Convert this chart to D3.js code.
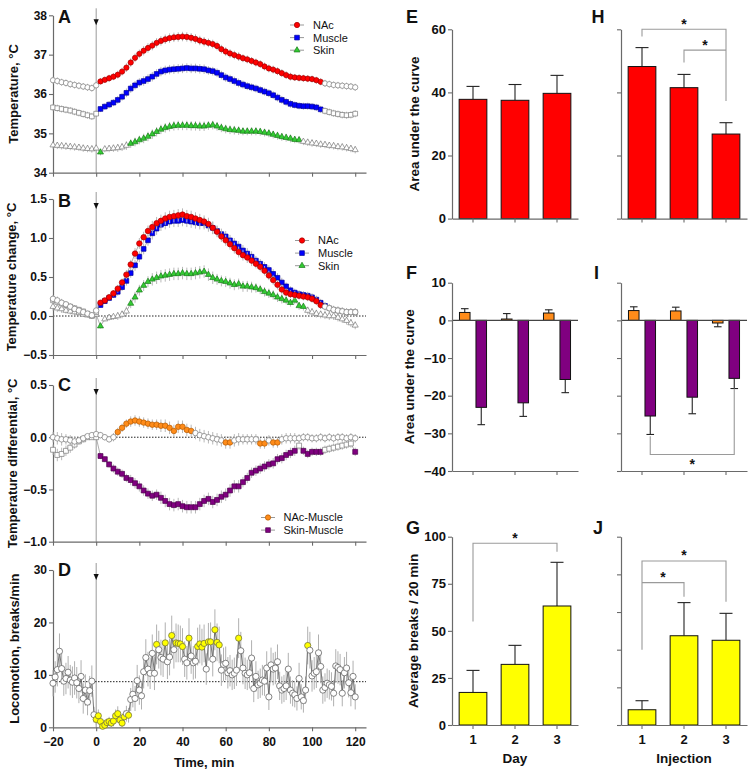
<!DOCTYPE html>
<html><head><meta charset="utf-8">
<script src="https://cdnjs.cloudflare.com/ajax/libs/d3/7.8.5/d3.min.js"></script>
<style>body{margin:0;background:#fff}svg{display:block}</style>
</head><body><svg id="c" width="754" height="777"></svg>
<script>
// ---------------- DATA ----------------
const timeTemp = [-20,-18,-16,-14,-12,-10,-8,-6,-4,-2,0,
 2,4,6,8,10,12,14,16,18,20, 22,24,26,28,30,32,34,36,38,40,
 42,44,46,48,50,52,54,56,58,60, 62,64,66,68,70,72,74,76,78,80,
 82,84,86,88,90,92,94,96,98,100, 102,104, 106,108,110,112,114,116,118,120];

const aNAc = [36.35,36.33,36.30,36.28,36.25,36.23,36.21,36.19,36.17,36.15,36.22,
 36.32,36.36,36.40,36.44,36.49,36.57,36.67,36.80,36.92,37.02,
 37.10,37.17,37.23,37.30,37.35,37.39,37.42,37.44,37.45,37.46,
 37.45,37.43,37.40,37.36,37.33,37.30,37.27,37.22,37.14,37.08,
 37.03,36.99,36.95,36.91,36.88,36.84,36.80,36.76,36.70,36.65,
 36.62,36.58,36.53,36.48,36.44,36.42,36.41,36.40,36.39,36.38,
 36.35,36.31, 36.27,36.25,36.23,36.22,36.21,36.20,36.19,36.17];
const aMuscle = [35.66,35.64,35.62,35.60,35.58,35.55,35.52,35.49,35.46,35.43,35.50,
 35.62,35.68,35.73,35.78,35.85,35.93,36.03,36.14,36.22,36.29,
 36.33,36.38,36.44,36.51,36.57,36.60,36.62,36.63,36.64,36.65,
 36.66,36.65,36.65,36.64,36.63,36.60,36.58,36.54,36.48,36.42,
 36.38,36.33,36.28,36.24,36.20,36.17,36.14,36.10,36.06,36.02,
 35.97,35.91,35.85,35.80,35.75,35.72,35.70,35.69,35.69,35.68,
 35.66,35.61, 35.57,35.54,35.51,35.49,35.47,35.46,35.47,35.50];
const aSkin = [34.70,34.69,34.68,34.67,34.66,34.65,34.64,34.62,34.61,34.60,34.62,
 34.52,34.60,34.61,34.62,34.63,34.65,34.69,34.74,34.78,34.83,
 34.87,34.92,34.98,35.04,35.10,35.14,35.17,35.19,35.20,35.20,
 35.20,35.19,35.19,35.18,35.18,35.20,35.21,35.18,35.14,35.11,
 35.09,35.08,35.07,35.05,35.05,35.05,35.05,35.04,35.02,35.00,
 34.97,34.94,34.91,34.89,34.87,34.84,34.83,34.79,34.77,34.75,
 34.74,34.72, 34.71,34.69,34.68,34.66,34.65,34.63,34.61,34.58];
const semA = [0.09,0.09,0.09,0.09,0.09,0.09,0.09,0.09,0.09,0.09,0.09,
 0.08,0.08,0.09,0.09,0.10,0.10,0.11,0.11,0.11,0.11,
 0.12,0.12,0.12,0.12,0.12,0.12,0.12,0.12,0.12,0.12,
 0.12,0.12,0.12,0.12,0.12,0.11,0.11,0.11,0.11,0.11,
 0.11,0.11,0.11,0.10,0.10,0.10,0.10,0.10,0.10,0.10,
 0.10,0.10,0.10,0.10,0.10,0.09,0.09,0.09,0.09,0.09,
 0.09,0.09, 0.09,0.09,0.09,0.09,0.09,0.09,0.09,0.09];

const bNAc = [0.22,0.20,0.17,0.15,0.12,0.09,0.07,0.05,0.03,0.01,0.07,
 0.17,0.20,0.24,0.29,0.35,0.43,0.53,0.66,0.80,0.93,
 1.01,1.09,1.14,1.19,1.22,1.25,1.27,1.28,1.29,1.30,
 1.28,1.27,1.25,1.23,1.21,1.18,1.13,1.08,1.02,0.97,
 0.92,0.87,0.82,0.78,0.75,0.71,0.67,0.63,0.58,0.52,
 0.46,0.40,0.34,0.30,0.28,0.27,0.26,0.25,0.24,0.22,
 0.19,0.14, 0.12,0.10,0.08,0.07,0.06,0.05,0.05,0.05];
const bMuscle = [0.20,0.18,0.16,0.14,0.12,0.10,0.08,0.06,0.03,0.00,0.05,
 0.14,0.19,0.23,0.27,0.31,0.37,0.45,0.55,0.65,0.76,
 0.86,0.97,1.06,1.12,1.17,1.19,1.21,1.22,1.22,1.23,
 1.22,1.21,1.20,1.19,1.19,1.16,1.13,1.09,1.05,1.02,
 0.97,0.93,0.89,0.84,0.80,0.76,0.71,0.67,0.63,0.59,
 0.54,0.49,0.43,0.38,0.33,0.30,0.28,0.27,0.26,0.24,
 0.21,0.17, 0.13,0.10,0.08,0.07,0.06,0.05,0.05,0.05];
const bSkin = [0.12,0.10,0.09,0.07,0.06,0.05,0.04,0.02,0.01,0.00,0.02,
 -0.13,-0.04,-0.02,-0.01,0.00,0.02,0.06,0.16,0.24,0.33,
 0.39,0.44,0.47,0.49,0.51,0.52,0.53,0.54,0.54,0.55,
 0.54,0.54,0.55,0.56,0.57,0.53,0.49,0.47,0.45,0.44,
 0.42,0.40,0.41,0.38,0.38,0.37,0.36,0.34,0.31,0.29,
 0.27,0.24,0.22,0.20,0.17,0.20,0.13,0.12,0.07,0.05,
 0.03,0.02, 0.01,0.00,0.00,-0.02,-0.04,-0.06,-0.09,-0.12];
const semB = [0.05,0.05,0.05,0.04,0.04,0.04,0.04,0.03,0.03,0.03,0.03,
 0.03,0.03,0.04,0.04,0.05,0.05,0.06,0.06,0.07,0.07,
 0.07,0.07,0.08,0.08,0.08,0.08,0.08,0.08,0.08,0.08,
 0.08,0.08,0.08,0.08,0.08,0.08,0.08,0.07,0.07,0.07,
 0.07,0.07,0.07,0.07,0.07,0.07,0.06,0.06,0.06,0.06,
 0.06,0.06,0.06,0.05,0.05,0.05,0.05,0.05,0.05,0.05,
 0.05,0.05, 0.05,0.05,0.05,0.05,0.05,0.05,0.05,0.05];

const cNAcMuscle = [0.00,-0.01,-0.02,-0.02,-0.03,-0.04,-0.03,-0.01,0.01,0.02,0.03,
 0.02,0.00,-0.02,0.00,0.05,0.09,0.13,0.15,0.16,0.15,
 0.14,0.13,0.12,0.12,0.11,0.11,0.09,0.06,0.10,0.10,
 0.07,0.06,0.04,0.02,0.01,0.00,-0.01,-0.02,-0.03,-0.05,
 -0.05,-0.03,-0.02,-0.02,-0.02,-0.02,-0.02,-0.06,-0.06,-0.03,
 -0.05,-0.05,-0.02,-0.01,-0.01,-0.01,-0.01,0.00,0.00,-0.01,
 -0.01,0.00, -0.01,0.00,-0.01,0.00,0.00,-0.01,0.00,-0.01];
const cSkinMuscle = [-0.12,-0.17,-0.16,-0.13,-0.10,-0.07,-0.04,-0.02,0.00,0.00,0.00,
 -0.18,-0.21,-0.26,-0.30,-0.33,-0.35,-0.39,-0.41,-0.44,-0.47,
 -0.51,-0.54,-0.56,-0.55,-0.58,-0.61,-0.64,-0.65,-0.64,-0.66,
 -0.67,-0.67,-0.67,-0.64,-0.61,-0.59,-0.62,-0.60,-0.57,-0.55,
 -0.51,-0.47,-0.47,-0.43,-0.39,-0.34,-0.32,-0.30,-0.28,-0.26,
 -0.25,-0.21,-0.20,-0.17,-0.15,-0.13,-0.08,-0.13,-0.16,-0.14,
 -0.14,-0.14, -0.12,-0.11,-0.10,-0.09,-0.08,-0.07,-0.06,-0.14];
const semC = [0.05,0.06,0.06,0.05,0.05,0.04,0.03,0.03,0.02,0.02,0.02,
 0.03,0.03,0.03,0.04,0.04,0.04,0.04,0.05,0.05,0.05,
 0.05,0.05,0.05,0.05,0.06,0.06,0.06,0.06,0.06,0.06,
 0.06,0.06,0.06,0.06,0.06,0.06,0.06,0.06,0.06,0.06,
 0.06,0.06,0.06,0.05,0.05,0.05,0.05,0.05,0.05,0.05,
 0.05,0.05,0.05,0.05,0.05,0.05,0.04,0.04,0.04,0.04,
 0.04,0.04, 0.04,0.04,0.04,0.04,0.04,0.04,0.04,0.04];

// significant (coloured) time ranges, minutes
const sigANAc = [[2,104]], sigAMuscle = [[2,104]], sigASkin = [[2,2],[16,94]];
const sigBNAc = [[2,104]], sigBMuscle = [[2,106]], sigBSkin = [[2,2],[16,96]];
const sigCNAc = [[10,44],[60,62],[76,78],[82,84]], sigCSkin = [[2,92],[96,104],[120,120]];

const timeLoc = [-20,-19,-18,-17,-16,-15,-14,-13,-12,-11,-10,-9,-8,-7,-6,-5,-4,-3,-2,-1,
 0,1,2,3,4,5,6,7,8,9,10,11,12,13,14,15,16,17,18,19,
 20,21,22,23,24,25,26,27,28,29,30,31,32,33,34,35,36,37,38,39,
 40,41,42,43,44,45,46,47,48,49,50,51,52,53,54,55,56,57,58,59,
 60,61,62,63,64,65,66,67,68,69,70,71,72,73,74,75,76,77,78,79,
 80,81,82,83,84,85,86,87,88,89,90,91,92,93,94,95,96,97,98,99,
 100,101,102,103,104,105,106,107,108,109,110,111,112,113,114,115,116,117,118,119,120];
const locomotion = [8.4,9.6,11.0,14.5,11.2,8.8,9.3,10.5,9.0,8.6,
 9.4,8.5,7.4,9.7,5.5,7.1,4.8,7.0,8.8,2.4,
 1.5,2.2,1.1,0.2,0.4,0.9,1.1,0.8,1.2,2.2,
 2.6,1.4,0.8,2.0,2.6,2.3,5.3,6.3,5.5,8.9,
 7.1,6.0,10.6,13.3,11.1,10.3,14.1,10.3,15.8,14.8,
 13.3,13.0,16.1,12.5,13.4,17.5,14.8,16.1,16.0,15.9,
 15.4,13.0,12.3,17.0,13.6,12.3,12.6,15.4,15.9,15.3,
 16.0,11.1,16.3,16.3,13.0,18.6,16.2,15.7,10.9,12.0,
 12.2,10.4,10.8,10.0,10.3,10.9,17.0,14.6,11.3,10.3,
 10.0,10.4,13.2,7.4,9.7,8.1,8.4,9.0,8.8,11.3,
 5.8,11.9,11.1,11.3,12.5,7.9,7.1,7.4,7.9,11.1,
 7.1,6.5,6.2,5.5,9.3,5.8,5.1,7.1,15.6,14.7,
 9.8,10.3,10.6,14.2,11.6,7.1,7.6,8.4,8.1,7.8,
 6.5,11.7,11.4,11.0,6.5,10.4,11.3,8.5,6.6,9.7,
 5.8];
const locomotionSem = [2.5,3.0,3.2,3.4,3.0,2.8,3.0,3.1,2.9,3.0,
 3.2,3.0,2.8,3.1,2.9,3.0,2.5,2.8,3.0,1.5,
 1.0,1.2,0.9,0.5,0.6,0.8,0.9,0.8,1.0,1.2,
 1.4,1.0,0.8,1.2,1.5,1.4,2.2,2.5,2.4,3.0,
 2.8,2.6,3.2,3.5,3.3,3.0,3.6,3.2,3.8,3.6,
 3.4,3.4,3.9,3.3,3.5,3.8,3.6,3.7,3.6,3.5,
 3.5,3.4,3.2,3.8,3.4,3.2,3.3,3.6,3.7,3.5,
 3.6,3.0,3.6,3.7,3.3,3.9,3.6,3.5,3.0,3.2,
 3.2,3.0,3.0,2.9,3.0,3.0,3.8,3.6,3.1,3.0,
 2.9,3.0,3.4,2.6,2.9,2.7,2.8,2.9,2.8,3.2,
 2.5,3.3,3.1,3.1,3.3,2.7,2.6,2.6,2.7,3.1,
 2.6,2.5,2.4,2.3,3.0,2.4,2.3,2.6,3.6,3.5,
 3.0,3.1,3.1,3.5,3.2,2.6,2.7,2.8,2.8,2.7,
 2.5,3.2,3.1,3.0,2.5,3.0,3.1,2.8,2.6,3.0,
 2.4];
const sigLoc = [[0,13],[15,15],[28,28],[32,32],[35,35],[37,40],[43,43],[47,50],[52,53],[55,57],[66,66],[98,98]];
const locBaseline = 8.7;

// bar panels
const groups = ['1','2','3'];
const eMean = [37.8,37.5,39.7], eSem = [4.1,5.0,5.7];
const hMean = [48.2,41.5,26.8], hSem = [6.0,4.2,3.6];
const fNAcMean = [2.1,0.35,1.95], fNAcSem = [1.0,1.45,0.85];
const fSkinMean = [-23.1,-21.9,-15.7], fSkinSem = [4.6,3.6,3.5];
const iNAcMean = [2.6,2.5,-0.7], iNAcSem = [1.0,1.0,1.0];
const iSkinMean = [-25.4,-20.4,-15.4], iSkinSem = [4.9,4.4,2.7];
const gMean = [17.3,32.2,63.2], gSem = [11.7,10.1,23.2];
const jMean = [8.1,47.4,45.0], jSem = [4.8,17.6,14.3];
// brackets: from group a to b, bar y, end heights (data units)
const hBrackets = [{a:0,b:2,y:60,ya:57.7,yb:37.3},{a:1,b:2,y:53.4,ya:49.5,yb:53.4}];
const iBrackets = [{a:0,b:2,y:-35.6,ya:-30.8,yb:-18.1}];
const gBrackets = [{a:0,b:2,y:96.5,ya:55,yb:92}];
const jBrackets = [{a:0,b:2,y:87.1,ya:40,yb:65.5},{a:0,b:1,y:75.6,ya:75.6,yb:68.1}];

// ---------------- DRAWING ----------------
const FONT = '"Liberation Sans", Arial, Helvetica, sans-serif';
const svg = d3.select('#c').style('font-family', FONT);

const C = {
  red:'#ff0000', redS:'#a00000', blue:'#0000ff', blueS:'#00009a',
  green:'#33cc33', greenS:'#1a7a1a', orange:'#ff8c1a', orangeS:'#b35900',
  purple:'#800080', purpleS:'#4a004a', yellow:'#ffff00', yellowS:'#77773a'
};

const xT = d3.scaleLinear().domain([-20,125]).range([53,366]);
const timeTicks = [-20,0,20,40,60,80,100,120];

function styleAxis(g, fs){
  g.selectAll('path.domain').attr('stroke','#6a6a6a').attr('stroke-width',1.2);
  g.selectAll('.tick line').attr('stroke','#6a6a6a').attr('stroke-width',1.1);
  g.selectAll('text').attr('font-family',FONT).attr('font-weight','bold')
    .attr('font-size',fs||12).attr('fill','#111');
}
function inRanges(t, r){ return r.some(([a,b]) => t>=a && t<=b); }

const symCircle = d3.symbolCircle, symSquare = d3.symbolSquare, symTri = d3.symbolTriangle;

function leftPanel(cfg){
  const y = cfg.y;
  const top = y.range()[1], bot = y.range()[0];
  const g = svg.append('g');
  g.append('line').attr('x1',xT(0)).attr('x2',xT(0)).attr('y1',top-7).attr('y2',bot)
    .attr('stroke','#999').attr('stroke-width',1);
  g.append('path').attr('d',`M${xT(0)-2.6},${top+4}L${xT(0)+2.6},${top+4}L${xT(0)},${top+10}Z`).attr('fill','#111');
  if (cfg.ref !== undefined){
    g.append('line').attr('x1',xT(-20)).attr('x2',xT(125)).attr('y1',y(cfg.ref)).attr('y2',y(cfg.ref))
      .attr('stroke','#222').attr('stroke-width',1).attr('stroke-dasharray','1.5,1.5');
  }
  const ya = g.append('g').attr('transform',`translate(${xT(-20)},0)`)
    .call(d3.axisLeft(y).tickValues(cfg.ticks).tickFormat(cfg.fmt).tickSize(4).tickSizeOuter(0).tickPadding(2));
  styleAxis(ya, 12);
  const xa = g.append('g').attr('transform',`translate(0,${bot})`)
    .call(d3.axisBottom(xT).tickValues(timeTicks).tickSize(4).tickSizeOuter(0)
      .tickFormat(cfg.xLabels ? d3.format('d') : ''));
  styleAxis(xa, 12);
  xa.selectAll('text').attr('dy','0.95em');
  g.append('text').attr('transform',`translate(${cfg.titleX},${(top+bot)/2}) rotate(-90)`)
    .attr('text-anchor','middle').attr('font-weight','bold').attr('font-size',13).attr('fill','#111')
    .text(cfg.title);
  g.append('text').attr('x',58).attr('y',cfg.letterY).attr('font-weight','bold').attr('font-size',18)
    .attr('fill','#111').text(cfg.letter);
  return g;
}

function drawSeries(g, y, times, vals, sem, sig, sym, size, fill, stroke, errColor){
  const pts = times.map((t,i)=>({t, v: vals[i], s: sem[i], sig: inRanges(t, sig)}));
  g.append('g').selectAll('line').data(pts).join('line')
    .attr('x1',d=>xT(d.t)).attr('x2',d=>xT(d.t))
    .attr('y1',d=>y(d.v - d.s)).attr('y2',d=>y(d.v + d.s))
    .attr('stroke',errColor||'#b8b8b8').attr('stroke-width',1);
  g.append('path').datum(pts).attr('fill','none').attr('stroke','#8a8a8a').attr('stroke-width',0.7)
    .attr('d', d3.line().x(d=>xT(d.t)).y(d=>y(d.v)));
  const s = d3.symbol().type(sym).size(size);
  g.append('g').selectAll('path').data(pts).join('path')
    .attr('transform',d=>`translate(${xT(d.t)},${y(d.v)})`)
    .attr('d', s)
    .attr('fill', d=>d.sig ? fill : '#fff')
    .attr('stroke', d=>d.sig ? stroke : '#7a7a7a')
    .attr('stroke-width', 0.7);
}

function legend(g, items, mx, tx, ys){
  items.forEach((it,i)=>{
    g.append('line').attr('x1',mx-7).attr('x2',mx+7).attr('y1',ys[i]).attr('y2',ys[i])
      .attr('stroke','#999').attr('stroke-width',1);
    g.append('path').attr('transform',`translate(${mx},${ys[i]})`)
      .attr('d', d3.symbol().type(it.sym).size(it.size)).attr('fill',it.fill).attr('stroke',it.stroke).attr('stroke-width',0.7);
    g.append('text').attr('x',tx).attr('y',ys[i]+3.9).attr('font-size',11).attr('fill','#111').text(it.label);
  });
}

// Panel A
const yA = d3.scaleLinear().domain([34,38]).range([172.7,15.3]);
const gA = leftPanel({y:yA, ticks:[34,35,36,37,38], fmt:d3.format('d'), title:'Temperature, °C', titleX:17.5, letter:'A', letterY:22.5});
drawSeries(gA, yA, timeTemp, aSkin, semA, sigASkin, symTri, 16, C.green, C.greenS);
drawSeries(gA, yA, timeTemp, aMuscle, semA, sigAMuscle, symSquare, 22, C.blue, C.blueS);
drawSeries(gA, yA, timeTemp, aNAc, semA, sigANAc, symCircle, 22, C.red, C.redS);
legend(gA, [
  {label:'NAc', sym:symCircle, size:22, fill:C.red, stroke:C.redS},
  {label:'Muscle', sym:symSquare, size:22, fill:C.blue, stroke:C.blueS},
  {label:'Skin', sym:symTri, size:16, fill:C.green, stroke:C.greenS}], 297, 313, [25,37.6,50.2]);

// Panel B
const yB = d3.scaleLinear().domain([-0.5,1.5]).range([355,199]);
const gB = leftPanel({y:yB, ticks:[-0.5,0,0.5,1.0,1.5], fmt:d3.format('.1f'), title:'Temperature change, °C', titleX:16, letter:'B', letterY:206.5, ref:0});
drawSeries(gB, yB, timeTemp, bSkin, semB, sigBSkin, symTri, 16, C.green, C.greenS);
drawSeries(gB, yB, timeTemp, bMuscle, semB, sigBMuscle, symSquare, 22, C.blue, C.blueS);
drawSeries(gB, yB, timeTemp, bNAc, semB, sigBNAc, symCircle, 24, C.red, C.redS);
legend(gB, [
  {label:'NAc', sym:symCircle, size:22, fill:C.red, stroke:C.redS},
  {label:'Muscle', sym:symSquare, size:22, fill:C.blue, stroke:C.blueS},
  {label:'Skin', sym:symTri, size:16, fill:C.green, stroke:C.greenS}], 302, 318, [240.5,253.1,265.7]);

// Panel C
const yC = d3.scaleLinear().domain([-1,0.5]).range([541.7,385]);
const gC = leftPanel({y:yC, ticks:[-1.0,-0.5,0,0.5], fmt:d3.format('.1f'), title:'Temperature differential, °C', titleX:16.5, letter:'C', letterY:391, ref:0});
drawSeries(gC, yC, timeTemp, cSkinMuscle, semC, sigCSkin, symSquare, 24, C.purple, C.purpleS);
drawSeries(gC, yC, timeTemp, cNAcMuscle, semC, sigCNAc, symCircle, 24, C.orange, C.orangeS);
legend(gC, [
  {label:'NAc-Muscle', sym:symCircle, size:22, fill:C.orange, stroke:C.orangeS},
  {label:'Skin-Muscle', sym:symSquare, size:22, fill:C.purple, stroke:C.purpleS}], 268, 283.5, [517.5,530.1]);

// Panel D
const yD = d3.scaleLinear().domain([0,30]).range([727.3,570]);
const gD = leftPanel({y:yD, ticks:[0,10,20,30], fmt:d3.format('d'), title:'Locomotion, breaks/min', titleX:19, letter:'D', letterY:576, ref:locBaseline, xLabels:true});
(function(){
  const pts = timeLoc.map((t,i)=>({t, v: locomotion[i], s: locomotionSem[i], sig: inRanges(t, sigLoc)}));
  gD.append('g').selectAll('line').data(pts).join('line')
    .attr('x1',d=>xT(d.t)).attr('x2',d=>xT(d.t))
    .attr('y1',d=>yD(Math.max(0,d.v-d.s))).attr('y2',d=>yD(d.v+d.s))
    .attr('stroke','#b0b0b0').attr('stroke-width',1);
  gD.append('path').datum(pts).attr('fill','none').attr('stroke','#555').attr('stroke-width',0.8)
    .attr('d', d3.line().x(d=>xT(d.t)).y(d=>yD(d.v)));
  gD.append('g').selectAll('circle').data(pts).join('circle')
    .attr('cx',d=>xT(d.t)).attr('cy',d=>yD(d.v)).attr('r',3.1)
    .attr('fill',d=>d.sig?C.yellow:'#fff').attr('stroke',d=>d.sig?C.yellowS:'#666').attr('stroke-width',0.8);
})();
gD.append('text').attr('x',xT(50)).attr('y',767).attr('text-anchor','middle')
  .attr('font-weight','bold').attr('font-size',13).attr('fill','#111').text('Time, min');

// ---------------- Bar panels ----------------
function barPanel(cfg){
  const g = svg.append('g');
  const y = cfg.y;
  const x = d3.scaleBand().domain(groups).range([cfg.x0, cfg.x0+126]).paddingInner(0.34).paddingOuter(0.17);
  const base = y.domain()[0];
  const series = cfg.series;
  const sub = d3.scaleBand().domain(series.map((s,i)=>i)).range([0,x.bandwidth()])
    .paddingInner(series.length>1?0.36:0).paddingOuter(series.length>1?0.02:0);
  const centers = {};
  series.forEach((s,si)=>{
    groups.forEach((gr,gi)=>{
      const v = s.mean[gi], e = s.sem[gi];
      const bx = x(gr) + sub(si), bw = sub.bandwidth();
      const cx = bx + bw/2;
      centers[si+'_'+gi] = cx;
      const dir = v>=0 ? 1 : -1;
      const cap = Math.min(13, bw*0.72);
      g.append('line').attr('x1',cx).attr('x2',cx).attr('y1',y(v)).attr('y2',y(v+dir*e))
        .attr('stroke','#222').attr('stroke-width',1.1);
      g.append('line').attr('x1',cx-cap/2).attr('x2',cx+cap/2).attr('y1',y(v+dir*e)).attr('y2',y(v+dir*e))
        .attr('stroke','#222').attr('stroke-width',1.1);
      g.append('rect').attr('x',bx).attr('width',bw)
        .attr('y',y(Math.max(0,v))).attr('height',Math.abs(y(v)-y(0)))
        .attr('fill',s.color).attr('stroke','#111').attr('stroke-width',1);
    });
  });
  if (y.domain()[0] < 0){
    g.append('line').attr('x1',cfg.x0).attr('x2',cfg.x0+126).attr('y1',y(0)).attr('y2',y(0))
      .attr('stroke','#444').attr('stroke-width',1.1);
  }
  const ya = g.append('g').attr('transform',`translate(${cfg.x0},0)`)
    .call(d3.axisLeft(y).tickValues(cfg.ticks).tickSize(4).tickSizeOuter(0).tickPadding(2)
      .tickFormat(cfg.yLabels ? d3.format('d') : ''));
  styleAxis(ya, 13);
  const xa = g.append('g').attr('transform',`translate(0,${y(base)})`)
    .call(d3.axisBottom(x).tickSize(4).tickSizeOuter(0).tickFormat(cfg.xLabels ? (d=>d) : ''));
  styleAxis(xa, 13);
  xa.selectAll('text').attr('dy','0.9em');
  if (cfg.title){
    g.append('text').attr('transform',`translate(${cfg.titleX},${(y.range()[0]+y.range()[1])/2}) rotate(-90)`)
      .attr('text-anchor','middle').attr('font-weight','bold').attr('font-size',13.5).attr('fill','#111').text(cfg.title);
  }
  if (cfg.xTitle){
    g.append('text').attr('x',cfg.x0+63).attr('y',763).attr('text-anchor','middle')
      .attr('font-weight','bold').attr('font-size',13.5).attr('fill','#111').text(cfg.xTitle);
  }
  g.append('text').attr('x',cfg.letterX).attr('y',cfg.letterY).attr('font-weight','bold').attr('font-size',18)
    .attr('fill','#111').text(cfg.letter);
  const bs = cfg.bracketSeries || 0;
  (cfg.brackets||[]).forEach(b=>{
    const xa_ = centers[bs+'_'+b.a], xb_ = centers[bs+'_'+b.b];
    g.append('path').attr('d',`M${xa_},${y(b.ya)}L${xa_},${y(b.y)}L${xb_},${y(b.y)}L${xb_},${y(b.yb)}`)
      .attr('fill','none').attr('stroke','#9a9a9a').attr('stroke-width',1.1);
    const below = b.y < 0;
    g.append('text').attr('x',(xa_+xb_)/2).attr('y', below ? y(b.y)+15 : y(b.y)-0.5)
      .attr('text-anchor','middle').attr('font-size',14).attr('font-weight','bold').attr('fill','#111').text('*');
  });
}

const yE = d3.scaleLinear().domain([0,60]).range([218.6,29.3]);
const yF = d3.scaleLinear().domain([-40,10]).range([471,282.7]);
const yG = d3.scaleLinear().domain([0,100]).range([725,536.7]);

barPanel({x0:452, y:yE, ticks:[0,20,40,60], yLabels:true, series:[{mean:eMean,sem:eSem,color:C.red}],
  title:'Area under the curve', titleX:418.5, letter:'E', letterX:406, letterY:22.5});
barPanel({x0:621, y:yE, ticks:[0,20,40,60], series:[{mean:hMean,sem:hSem,color:C.red}],
  letter:'H', letterX:591.5, letterY:22.5, brackets:hBrackets});
barPanel({x0:452, y:yF, ticks:[-40,-30,-20,-10,0,10], yLabels:true,
  series:[{mean:fNAcMean,sem:fNAcSem,color:C.orange},{mean:fSkinMean,sem:fSkinSem,color:C.purple}],
  title:'Area under the curve', titleX:414, letter:'F', letterX:406, letterY:278.5});
barPanel({x0:621, y:yF, ticks:[-40,-30,-20,-10,0,10],
  series:[{mean:iNAcMean,sem:iNAcSem,color:C.orange},{mean:iSkinMean,sem:iSkinSem,color:C.purple}],
  letter:'I', letterX:594, letterY:278.5, brackets:iBrackets, bracketSeries:1});
barPanel({x0:452, y:yG, ticks:[0,25,50,75,100], yLabels:true, xLabels:true, series:[{mean:gMean,sem:gSem,color:C.yellow}],
  title:'Average breaks / 20 min', titleX:418, letter:'G', letterX:406, letterY:533.5, brackets:gBrackets, xTitle:'Day'});
barPanel({x0:621, y:yG, ticks:[0,20,40,60,80,100], xLabels:true, series:[{mean:jMean,sem:jSem,color:C.yellow}],
  letter:'J', letterX:593, letterY:533.5, brackets:jBrackets, xTitle:'Injection'});
</script></body></html>
